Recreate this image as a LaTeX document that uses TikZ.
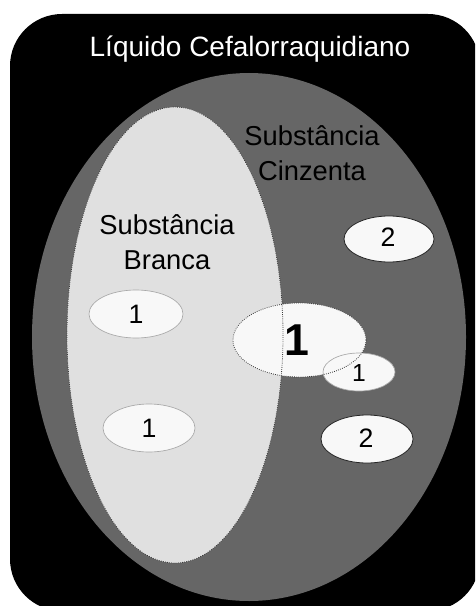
\documentclass[tikz,border=0pt]{standalone}
\usepackage{fontspec}
\setmainfont{Liberation Sans}
\definecolor{csf}{HTML}{000000}
\definecolor{greymatter}{HTML}{666666}
\definecolor{whitematter}{HTML}{E0E0E0}
\definecolor{lesion}{HTML}{F8F8F8}
\definecolor{faintrim}{HTML}{A8A8A8}
\definecolor{darkrim}{HTML}{262626}
\definecolor{dotrim}{HTML}{3A3A3A}

\tikzset{
  lesionfill/.style={fill=lesion},
  faintedge/.style={draw=faintrim, line width=0.5pt},
  darkedge/.style={draw=darkrim, line width=0.6pt},
  dottededge/.style={draw=dotrim, line width=0.6pt, densely dotted},
  label/.style={inner sep=0pt, font=\fontsize{20.5}{26.5}\selectfont, align=center},
  numlabel/.style={inner sep=0pt, font=\fontsize{20}{24}\selectfont},
}

\begin{document}
\begin{tikzpicture}[x=0.75pt, y=-0.75pt]
\useasboundingbox (0,0) rectangle (475,606);

% cerebrospinal fluid: rounded black box, cut at the page edge
\begin{scope}
  \clip (0,0) rectangle (475,606);
  \fill[csf, rounded corners=39pt] (10,14) rectangle (480,611);
\end{scope}

% grey matter and white matter regions
\coordinate (gm) at (249,337);
\coordinate (wm) at (175,335);
\fill[greymatter] (gm) ellipse [x radius=217, y radius=264];
\fill[whitematter] (wm) ellipse [x radius=108, y radius=228];

% lesion centres
\coordinate (l1) at (136,314);
\coordinate (l2) at (149,428);
\coordinate (l3) at (299.5,340);
\coordinate (l4) at (359,372);
\coordinate (l5) at (389,239);
\coordinate (l6) at (367,439);

% lesion fills
\fill[lesionfill] (l1) ellipse [x radius=47, y radius=24];
\fill[lesionfill] (l2) ellipse [x radius=46, y radius=24];
\fill[lesionfill] (l4) ellipse [x radius=36, y radius=19];
\fill[lesionfill] (l3) ellipse [x radius=66.5, y radius=37];
\fill[lesionfill] (l5) ellipse [x radius=45, y radius=23];
\fill[lesionfill] (l6) ellipse [x radius=46, y radius=24];

% outlines on top of all fills
\path[dottededge] (wm) ellipse [x radius=108, y radius=228];
\path[faintedge] (l1) ellipse [x radius=47, y radius=24];
\path[faintedge] (l2) ellipse [x radius=46, y radius=24];
\path[faintedge] (l4) ellipse [x radius=36, y radius=19];
\path[dottededge] (l3) ellipse [x radius=66.5, y radius=37];
\path[darkedge] (l5) ellipse [x radius=45, y radius=23];
\path[darkedge] (l6) ellipse [x radius=46, y radius=24];

% texts
\node[label, text=white, anchor=base, font=\fontsize{21}{26}\selectfont] (title) at (250,57) {Líquido Cefalorraquidiano};
\node[label] (gmtext) at (312,153) {Substância\\Cinzenta};
\node[label] (wmtext) at (167,242) {Substância\\Branca};

\node[numlabel] (n1) at (l1) {1};
\node[numlabel] (n2) at (l2) {1};
\node[inner sep=0pt, font=\fontsize{33.5}{36}\selectfont\bfseries] (n3) at (297,340) {1};
\node[numlabel, font=\fontsize{18.5}{22}\selectfont] (n4) at (359,373) {1};
\node[numlabel] (n5) at (388,237) {2};
\node[numlabel] (n6) at (366,438) {2};
\end{tikzpicture}
\end{document}
